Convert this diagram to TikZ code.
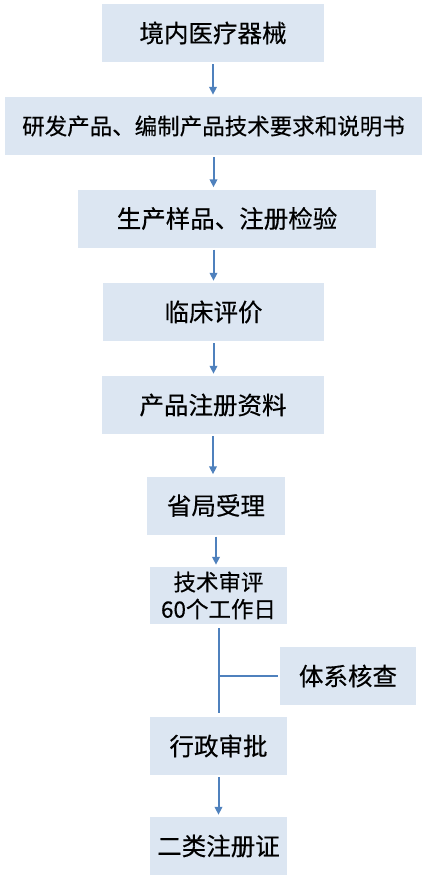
\documentclass[tikz,border=0pt]{standalone}
\usepackage{fontspec}
\newfontfamily\cjk[FakeBold=0.4]{Noto Sans CJK SC}
\usepackage{xcolor}
\definecolor{boxblue}{HTML}{DCE6F2}
\definecolor{lineblue}{HTML}{4F81BD}
\usepackage{tikz}
\usetikzlibrary{arrows.meta,positioning,calc}
\tikzset{
  nb/.style={fill=boxblue, align=center, inner sep=0pt, minimum height=58pt,
             font=\cjk\fontsize{24.5}{27}\selectfont},
  nsmall/.style={nb, font=\cjk\fontsize{22.5}{27}\selectfont},
  ar/.style={-{Triangle[length=8pt,width=7.5pt]}, draw=lineblue, line width=2pt,
             shorten <=2pt, shorten >=2pt},
  ln/.style={draw=lineblue, line width=2pt},
}

\begin{document}
\begin{tikzpicture}[x=1pt, y=-1pt]
  \useasboundingbox (0,0) rectangle (426,878);
  \node[nb, minimum width=222pt] (device) at (213,33) {境内医疗器械};
  \node[nsmall, minimum width=417pt] (develop) at (213.5,126) {研发产品、编制产品技术要求和说明书};
  \node[nb, minimum width=298pt] (sample) at (227,218.5) {生产样品、注册检验};
  \node[nb, minimum width=221pt] (clinic) at (213.5,312) {临床评价};
  \node[nb, minimum width=222pt] (docs) at (213,405) {产品注册资料};
  \node[nb, minimum width=138pt] (accept) at (216,505.5) {省局受理};
  \node[nsmall, minimum width=137pt, minimum height=57pt] (review) at (218.5,595.5) {技术审评\\60个工作日};
  \node[nb, minimum width=136pt] (audit) at (348,676) {体系核查};
  \node[nb, minimum width=137pt] (approve) at (218.5,746) {行政审批};
  \node[nb, minimum width=137pt] (cert) at (218.5,846) {二类注册证};
  \draw[ar] (device) -- (device |- develop.north);
  \draw[ar] (develop) -- (develop |- sample.north);
  \draw[ar] (sample.south -| develop) -- (clinic);
  \draw[ar] (clinic) -- (clinic |- docs.north);
  \draw[ar] (docs) -- (docs |- accept.north);
  \draw[ar] (accept) -- (accept |- review.north);
  % review -> approve, audit joins from the side
  \coordinate (join) at (audit.west -| review.south);
  \draw[ln, shorten <=4pt, shorten >=4pt] (review) -- (approve);
  \draw[ln, shorten <=2pt] (audit) -- (join);
  \draw[ar] (approve) -- (cert);
\end{tikzpicture}
\end{document}
